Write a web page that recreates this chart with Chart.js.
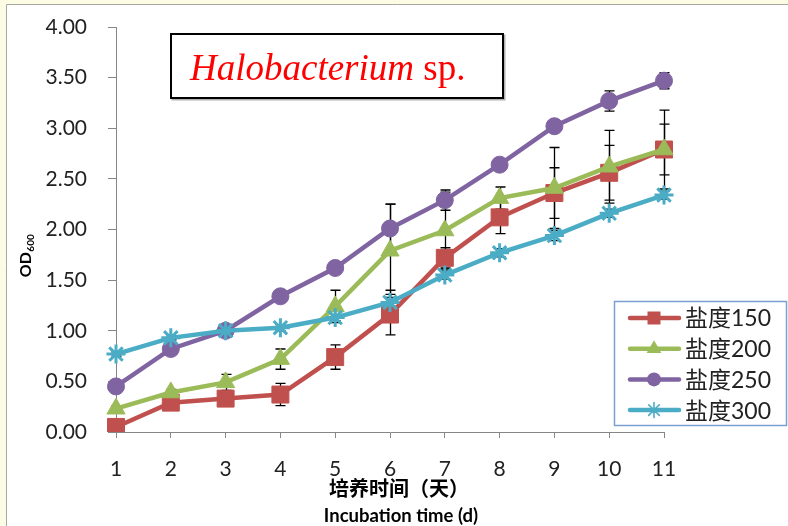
<!DOCTYPE html>
<html>
<head>
<meta charset="utf-8">
<script src="https://cdn.jsdelivr.net/npm/chart.js@4.4.0/dist/chart.umd.min.js"></script>
<style>
  html, body { margin: 0; padding: 0; background: #ffffff; }
  #wrap { width: 788px; height: 526px; position: relative; }
  canvas { display: block; }
</style>
</head>
<body>
<div id="wrap"><canvas id="c" width="788" height="526"></canvas></div>
<script>
// ---- data ----
const days = ['1', '2', '3', '4', '5', '6', '7', '8', '9', '10', '11'];
const seriesNames = ['盐度150', '盐度200', '盐度250', '盐度300'];
const salt150 = [0.05, 0.29, 0.33, 0.37, 0.74, 1.16, 1.72, 2.12, 2.36, 2.56, 2.79];
const salt200 = [0.23, 0.39, 0.49, 0.72, 1.24, 1.79, 1.99, 2.31, 2.41, 2.62, 2.79];
const salt250 = [0.45, 0.82, 1.00, 1.34, 1.62, 2.01, 2.29, 2.64, 3.02, 3.27, 3.47];
const salt300 = [0.77, 0.93, 1.00, 1.03, 1.13, 1.28, 1.55, 1.77, 1.94, 2.16, 2.34];
const err150 = [0.02, 0.03, 0.03, 0.11, 0.12, 0.20, 0.10, 0.16, 0.25, 0.27, 0.25];
const err200 = [0.03, 0.03, 0.08, 0.10, 0.16, 0.46, 0.38, 0.11, 0.40, 0.36, 0.39];
const err250 = [0.02, 0.03, 0.03, 0.04, 0.05, 0.24, 0.10, 0.05, 0.05, 0.10, 0.08];
const err300 = [0.02, 0.02, 0.02, 0.03, 0.03, 0.12, 0.04, 0.04, 0.05, 0.04, 0.04];
const yMin = 0, yMax = 4, yStep = 0.5;
const titleItalic = 'Halobacterium';
const titleRest = ' sp.';
const xTitleCn = '培养时间（天）';
const xTitleEn = 'Incubation time (d)';
const yTitleMain = 'OD';
const yTitleSub = '600';

const colors = ['#C0504D', '#9BBB59', '#8064A2', '#4BACC6'];
const styles = ['rect', 'triangle', 'circle', 'star'];
const radii = [12, 10.5, 8.5, 9.5];
const values = [salt150, salt200, salt250, salt300];
const errors = [err150, err200, err250, err300];

const datasets = values.map((v, i) => ({
  label: seriesNames[i],
  data: v,
  borderColor: colors[i],
  backgroundColor: colors[i],
  pointBackgroundColor: colors[i],
  pointBorderColor: colors[i],
  pointStyle: styles[i],
  pointRadius: radii[i],
  pointHoverRadius: radii[i],
  pointBorderWidth: styles[i] === 'star' ? 3 : 1,
  borderWidth: 4.5,
  tension: 0,
  order: 4 - i,
  errors: errors[i]
}));

const bgPlugin = {
  id: 'bg',
  beforeDraw(chart) {
    const ctx = chart.ctx;
    ctx.save();
    ctx.fillStyle = '#FCFBE3';
    ctx.fillRect(0, 0, 788, 526);
    ctx.fillStyle = '#ffffff';
    ctx.fillRect(6, 4, 782, 522);
    ctx.strokeStyle = '#A8A8A0';
    ctx.lineWidth = 1;
    ctx.beginPath();
    ctx.moveTo(6.5, 526); ctx.lineTo(6.5, 4.5); ctx.lineTo(788, 4.5);
    ctx.stroke();
    ctx.restore();
  }
};

const errPlugin = {
  id: 'errbars',
  beforeDatasetsDraw(chart) {
    const ctx = chart.ctx;
    const xs = chart.scales.x, ys = chart.scales.y;
    ctx.save();
    ctx.strokeStyle = '#000000';
    ctx.lineWidth = 1.3;
    chart.data.datasets.forEach(ds => {
      ds.data.forEach((v, j) => {
        const e = ds.errors[j];
        const x = Math.round(xs.getPixelForValue(j)) + 0.5;
        const yt = ys.getPixelForValue(v + e);
        const yb = ys.getPixelForValue(v - e);
        ctx.beginPath();
        ctx.moveTo(x, yt); ctx.lineTo(x, yb);
        ctx.moveTo(x - 5, yt); ctx.lineTo(x + 5, yt);
        ctx.moveTo(x - 5, yb); ctx.lineTo(x + 5, yb);
        ctx.stroke();
      });
    });
    ctx.restore();
  }
};

function marker(ctx, style, x, y, r, color) {
  ctx.save();
  ctx.fillStyle = color; ctx.strokeStyle = color;
  ctx.beginPath();
  if (style === 'rect') {
    const s = r * Math.SQRT1_2;
    ctx.rect(x - s, y - s, 2 * s, 2 * s); ctx.fill();
  } else if (style === 'triangle') {
    for (let k = 0; k < 3; k++) {
      const a = k * 2 * Math.PI / 3;
      const px = x + Math.sin(a) * r, py = y - Math.cos(a) * r;
      if (k === 0) ctx.moveTo(px, py); else ctx.lineTo(px, py);
    }
    ctx.closePath(); ctx.fill();
  } else if (style === 'circle') {
    ctx.arc(x, y, r, 0, Math.PI * 2); ctx.fill();
  } else {
    ctx.lineWidth = 1.6;
    for (let k = 0; k < 4; k++) {
      const a = k * Math.PI / 4;
      ctx.moveTo(x - Math.cos(a) * r, y - Math.sin(a) * r);
      ctx.lineTo(x + Math.cos(a) * r, y + Math.sin(a) * r);
    }
    ctx.stroke();
  }
  ctx.restore();
}

const decoPlugin = {
  id: 'deco',
  afterDraw(chart) {
    const ctx = chart.ctx;
    ctx.save();
    // title box
    ctx.fillStyle = '#b0b0b0';
    ctx.fillRect(171.5, 34.5, 334, 66);
    ctx.fillStyle = '#ffffff';
    ctx.fillRect(170, 33, 334, 66);
    ctx.strokeStyle = '#000000';
    ctx.lineWidth = 2;
    ctx.strokeRect(171, 34, 332, 64);
    ctx.fillStyle = '#FF0000';
    ctx.textBaseline = 'alphabetic';
    ctx.textAlign = 'left';
    ctx.font = 'italic 37px "Liberation Serif", "DejaVu Serif", serif';
    ctx.fillText(titleItalic, 190, 80);
    const w = ctx.measureText(titleItalic).width;
    ctx.font = '37px "Liberation Serif", "DejaVu Serif", serif';
    ctx.fillText(titleRest, 190 + w, 80);

    // legend
    ctx.fillStyle = '#ffffff';
    ctx.fillRect(614, 301, 173, 125);
    ctx.strokeStyle = '#7C9FD2';
    ctx.lineWidth = 1.5;
    ctx.strokeRect(614.5, 301.5, 172, 124);
    const legR = [9.2, 8.5, 7, 7.5];
    for (let i = 0; i < seriesNames.length; i++) {
      const y = 318 + i * 30.7;
      ctx.strokeStyle = colors[i];
      ctx.lineWidth = 4.5;
      ctx.lineCap = 'round';
      ctx.beginPath();
      ctx.moveTo(630, y); ctx.lineTo(679, y);
      ctx.stroke();
      marker(ctx, styles[i], 654, y, legR[i], colors[i]);
      ctx.fillStyle = '#222222';
      ctx.font = '23px Lato, "Noto Sans CJK SC", sans-serif';
      ctx.textBaseline = 'middle';
      ctx.fillText(seriesNames[i], 685, y + 1);
    }

    // axis titles
    ctx.fillStyle = '#000000';
    ctx.textAlign = 'center';
    ctx.textBaseline = 'middle';
    ctx.font = 'bold 20px "Noto Sans CJK SC", sans-serif';
    ctx.fillText(xTitleCn, 399, 488);
    ctx.font = 'bold 18.5px Lato, "Liberation Sans", sans-serif';
    ctx.fillText(xTitleEn, 401, 516);

    // y title rotated
    ctx.save();
    ctx.translate(31, 256);
    ctx.rotate(-Math.PI / 2);
    ctx.textAlign = 'left';
    ctx.textBaseline = 'alphabetic';
    ctx.font = 'bold 16px Lato, "Liberation Sans", sans-serif';
    const wm = ctx.measureText(yTitleMain).width;
    ctx.font = 'bold 10px Lato, "Liberation Sans", sans-serif';
    const ws = ctx.measureText(yTitleSub).width;
    const start = -(wm + ws) / 2;
    ctx.font = 'bold 16px Lato, "Liberation Sans", sans-serif';
    ctx.fillText(yTitleMain, start, 0);
    ctx.font = 'bold 10px Lato, "Liberation Sans", sans-serif';
    ctx.fillText(yTitleSub, start + wm + 0.5, 3);
    ctx.restore();

    ctx.restore();
  }
};

new Chart(document.getElementById('c'), {
  type: 'line',
  data: { labels: days, datasets },
  options: {
    responsive: false,
    animation: false,
    devicePixelRatio: 1,
    layout: { padding: { left: 0, top: 27, right: 124, bottom: 0 } },
    plugins: { legend: { display: false }, tooltip: { enabled: false }, title: { display: false } },
    scales: {
      x: {
        type: 'category',
        offset: false,
        grid: { display: true, drawOnChartArea: false, drawTicks: true, tickLength: 6, color: '#868686', offset: false },
        border: { display: true, color: '#868686', width: 1 },
        ticks: { color: '#222222', font: { family: 'Lato, "Liberation Sans", sans-serif', size: 21 }, padding: 19, maxRotation: 0, autoSkip: false },
        afterFit(scale) { scale.height = 94; }
      },
      y: {
        min: yMin, max: yMax,
        grid: { display: true, drawOnChartArea: false, drawTicks: true, tickLength: 8, color: '#868686' },
        border: { display: true, color: '#868686', width: 1 },
        ticks: { stepSize: yStep, color: '#222222', font: { family: 'Lato, "Liberation Sans", sans-serif', size: 21, lineHeight: 0.5 }, padding: 21,
          callback: v => Number(v).toFixed(2) },
        afterFit(scale) { scale.width = 116; scale.paddingTop = 0; scale.paddingBottom = 0; }
      }
    }
  },
  plugins: [bgPlugin, errPlugin, decoPlugin]
});
</script>
</body>
</html>
